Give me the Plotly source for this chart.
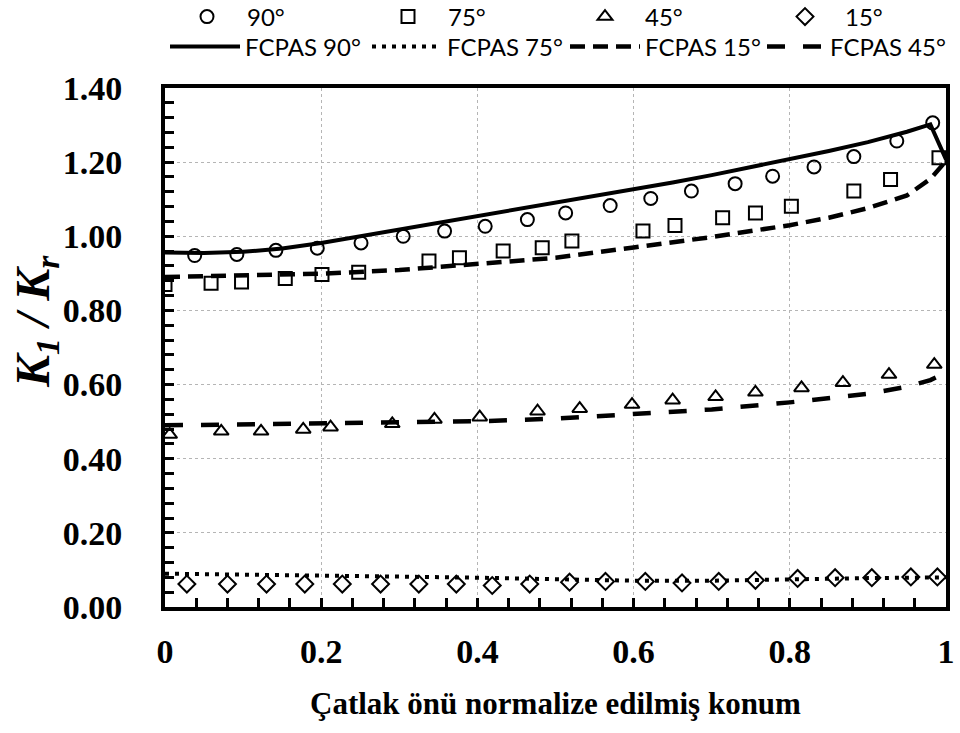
import plotly.graph_objects as go

# ---------------- data ----------------
x90 = [0.038, 0.092, 0.142, 0.195, 0.251, 0.305, 0.358, 0.410, 0.464, 0.513,
       0.570, 0.622, 0.674, 0.730, 0.778, 0.831, 0.882, 0.937, 0.983]
y90 = [0.948, 0.951, 0.962, 0.968, 0.982, 1.000, 1.014, 1.027, 1.045, 1.063,
       1.083, 1.102, 1.122, 1.142, 1.162, 1.187, 1.215, 1.257, 1.306]

x75 = [0.000, 0.059, 0.098, 0.154, 0.201, 0.248, 0.338, 0.377, 0.433, 0.483,
       0.521, 0.612, 0.653, 0.714, 0.756, 0.802, 0.882, 0.929, 0.991]
y75 = [0.870, 0.873, 0.877, 0.886, 0.897, 0.903, 0.933, 0.942, 0.960, 0.969,
       0.987, 1.014, 1.029, 1.050, 1.063, 1.081, 1.122, 1.153, 1.212]

x45 = [0.006, 0.072, 0.123, 0.177, 0.212, 0.291, 0.345, 0.403, 0.477, 0.531,
       0.598, 0.650, 0.705, 0.756, 0.815, 0.868, 0.927, 0.985]
y45 = [0.465, 0.474, 0.474, 0.479, 0.485, 0.494, 0.506, 0.512, 0.528, 0.535,
       0.546, 0.558, 0.567, 0.579, 0.591, 0.605, 0.627, 0.654]

x15 = [0.028, 0.080, 0.130, 0.179, 0.227, 0.276, 0.325, 0.373, 0.419, 0.467,
       0.518, 0.564, 0.615, 0.662, 0.709, 0.756, 0.810, 0.858, 0.905, 0.955, 0.989]
y15 = [0.062, 0.062, 0.062, 0.062, 0.062, 0.062, 0.062, 0.062, 0.058, 0.062,
       0.067, 0.069, 0.069, 0.065, 0.069, 0.072, 0.077, 0.079, 0.079, 0.081, 0.081]

xf90 = [0, 0.05, 0.1, 0.15, 0.2, 0.25, 0.3, 0.35, 0.4, 0.45, 0.5, 0.55, 0.6,
        0.65, 0.7, 0.75, 0.8, 0.85, 0.9, 0.95, 0.98, 1.0]
yf90 = [0.956, 0.955, 0.958, 0.967, 0.982, 1.000, 1.018, 1.036, 1.054, 1.072,
        1.090, 1.108, 1.126, 1.145, 1.165, 1.186, 1.208, 1.230, 1.254, 1.282,
        1.302, 1.207]

xf75 = [0, 0.1, 0.2, 0.3, 0.4, 0.5, 0.6, 0.7, 0.8, 0.9, 1.0]
yf75 = [0.090, 0.088, 0.085, 0.082, 0.079, 0.075, 0.071, 0.071, 0.075, 0.078, 0.080]

xf15 = [0, 0.1, 0.2, 0.3, 0.4, 0.5, 0.6, 0.7, 0.8, 0.85, 0.9, 0.95, 0.98, 1.0]
yf15 = [0.890, 0.893, 0.899, 0.909, 0.925, 0.942, 0.970, 0.998, 1.030, 1.050,
        1.076, 1.110, 1.155, 1.203]

xf45 = [0, 0.1, 0.2, 0.3, 0.4, 0.5, 0.6, 0.7, 0.8, 0.85, 0.9, 0.95, 0.98, 0.99]
yf45 = [0.490, 0.492, 0.494, 0.497, 0.501, 0.508, 0.520, 0.533, 0.552, 0.563,
        0.575, 0.594, 0.612, 0.622]

x_title = "Çatlak önü normalize edilmiş konum"
y_title = "<i>K<sub>1</sub> / K<sub>r</sub></i>"

# ---------------- figure ----------------
fig = go.Figure()

fig.add_trace(go.Scatter(x=xf90, y=yf90, mode="lines", name="FCPAS 90°",
                         line=dict(color="black", width=4), legend="legend5"))
fig.add_trace(go.Scatter(x=xf75, y=yf75, mode="lines", name="FCPAS 75°",
                         line=dict(color="black", width=4, dash="4px,6px"),
                         legend="legend6"))
fig.add_trace(go.Scatter(x=xf15, y=yf15, mode="lines", name="FCPAS 15°",
                         line=dict(color="black", width=4.5, dash="15px,8px"),
                         legend="legend7"))
fig.add_trace(go.Scatter(x=xf45, y=yf45, mode="lines", name="FCPAS 45°",
                         line=dict(color="black", width=4.5, dash="18px,18px"),
                         legend="legend8"))

mk = dict(color="black", size=13, line=dict(color="black", width=2))
fig.add_trace(go.Scatter(x=x90, y=y90, mode="markers", name="90°",
                         marker=dict(mk, symbol="circle-open"), legend="legend"))
fig.add_trace(go.Scatter(x=x75, y=y75, mode="markers", name="75°",
                         marker=dict(mk, symbol="square-open"), legend="legend2"))
fig.add_trace(go.Scatter(x=x45, y=y45, mode="markers", name="45°",
                         marker=dict(mk, symbol="triangle-up-open"), legend="legend3"))
fig.add_trace(go.Scatter(x=x15, y=y15, mode="markers", name="15°",
                         marker=dict(mk, symbol="diamond-open"), legend="legend4"))

lfont = dict(family="Lato, 'Open Sans', sans-serif", size=24, color="black")
row1_x = [167, 368, 565, 765]
row2 = [(165, 70), (367, 70), (565, 70), (762, 58)]
legends = {}
for i, px in enumerate(row1_x):
    key = "legend" if i == 0 else f"legend{i+1}"
    legends[key] = dict(x=px / 960, y=1 - 17 / 733, xref="container", yref="container",
                        xanchor="left", yanchor="middle", font=lfont, itemwidth=70,
                        bgcolor="rgba(0,0,0,0)", orientation="h")
for i, (px, iw) in enumerate(row2):
    key = f"legend{i+5}"
    legends[key] = dict(x=px / 960, y=1 - 47 / 733, xref="container", yref="container",
                        xanchor="left", yanchor="middle", font=lfont, itemwidth=iw,
                        bgcolor="rgba(0,0,0,0)", orientation="h")

serif = "'Liberation Serif', 'Times New Roman', serif"
tickfont = dict(family=serif, size=34, color="black", weight="bold")

fig.update_layout(
    width=960, height=733,
    margin=dict(l=165, r=14, t=88, b=126, autoexpand=False),
    paper_bgcolor="white", plot_bgcolor="white",
    showlegend=True,
    **legends,
    xaxis=dict(range=[0, 1], dtick=0.2, tick0=0, showline=True, linewidth=4,
               linecolor="black", mirror=True, ticks="inside", ticklen=9,
               tickwidth=3, tickcolor="black", tickfont=tickfont,
               ticklabelstandoff=11,
               showgrid=True, gridcolor="#b5b5b5", gridwidth=1, griddash="dot",
               zeroline=False,
               minor=dict(dtick=0.04, ticks="inside", ticklen=9, tickwidth=3,
                          tickcolor="black", showgrid=False),
               title=dict(text="<b>" + x_title + "</b>", standoff=25,
                          font=dict(family=serif, size=31, color="black"))),
    yaxis=dict(range=[0, 1.4], dtick=0.2, tick0=0, tickformat=".2f",
               showline=True, linewidth=4, linecolor="black", mirror=True,
               ticks="inside", ticklen=9, tickwidth=3, tickcolor="black",
               tickfont=tickfont, ticklabelstandoff=32,
               showgrid=True, gridcolor="#b5b5b5", gridwidth=1, griddash="dot",
               zeroline=False,
               minor=dict(dtick=0.04, ticks="inside", ticklen=9, tickwidth=3,
                          tickcolor="black", showgrid=False)),
    annotations=[dict(text="<b>" + y_title + "</b>", textangle=-90,
                      xref="paper", yref="paper", x=(36 - 165) / 781,
                      y=(607 - 322) / 519, xanchor="center", yanchor="middle",
                      showarrow=False,
                      font=dict(family=serif, size=48, color="black"))],
)

fig.write_html("out.html")
